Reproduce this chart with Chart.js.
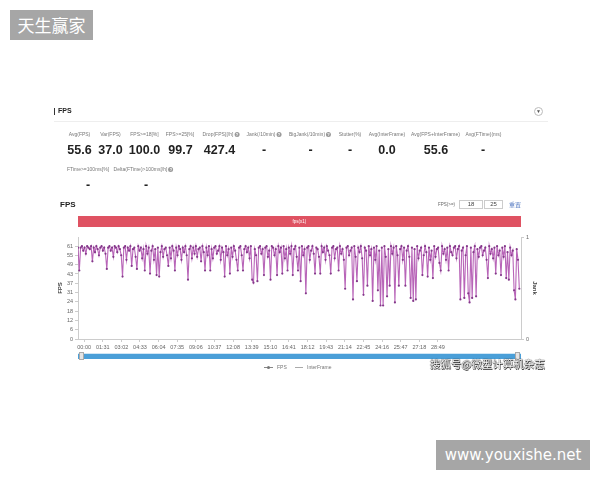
<!DOCTYPE html>
<html><head><meta charset="utf-8">
<script src="https://cdn.jsdelivr.net/npm/chart.js@4.4.1/dist/chart.umd.min.js"></script>
<style>
html,body{margin:0;padding:0;background:#fff;}
body{width:600px;height:480px;position:relative;overflow:hidden;font-family:"Liberation Sans",Arial,sans-serif;}
#c{position:absolute;left:0;top:0;}
.a{position:absolute;white-space:nowrap;}
.lab{position:absolute;white-space:nowrap;transform:translateX(-50%);font-size:5px;line-height:6px;color:#777;}
.val{position:absolute;white-space:nowrap;transform:translateX(-50%);font-size:12.5px;line-height:14px;font-weight:bold;color:#222;}
.ic{display:inline-block;width:5px;height:5px;border-radius:50%;background:#9a9a9a;color:#fff;font-size:4px;line-height:5px;text-align:center;vertical-align:middle;margin-left:1px;font-weight:bold;}
.wm{position:absolute;background:#a6a6a6;color:#fff;text-align:center;}
</style></head><body>
<canvas id="c" width="600" height="480"></canvas>

<div class="wm" style="left:10px;top:10px;width:83px;height:30px;line-height:30px;font-size:17px;font-family:'Noto Sans CJK SC',sans-serif;">天生赢家</div>
<div class="wm" style="left:436px;top:440px;width:154px;height:30px;line-height:30px;font-size:15px;font-family:'DejaVu Sans',sans-serif;">www.youxishe.net</div>

<!-- panel header -->
<div class="a" style="left:54px;top:106px;font-size:7px;line-height:10px;color:#222;"><span style="display:inline-block;width:1px;height:7px;background:#333;vertical-align:middle;margin-right:3px;"></span><b>FPS</b></div>
<div class="a" style="left:54px;top:121px;width:494px;height:1px;background:#eee;"></div>
<div class="a" style="left:534px;top:107px;width:9px;height:9px;border:1px solid #bbb;border-radius:50%;box-sizing:border-box;font-size:5px;line-height:7px;text-align:center;color:#555;">▼</div>

<!-- stats row 1 -->
<div class="lab" style="left:79.5px;top:131px;">Avg(FPS)</div>
<div class="lab" style="left:110.5px;top:131px;">Var(FPS)</div>
<div class="lab" style="left:144.5px;top:131px;">FPS&gt;=18[%]</div>
<div class="lab" style="left:180px;top:131px;">FPS&gt;=25[%]</div>
<div class="lab" style="left:221px;top:131px;">Drop(FPS)[/h]<span class="ic">?</span></div>
<div class="lab" style="left:264px;top:131px;">Jank(/10min)<span class="ic">?</span></div>
<div class="lab" style="left:310px;top:131px;">BigJank(/10min)<span class="ic">?</span></div>
<div class="lab" style="left:350px;top:131px;">Stutter(%)</div>
<div class="lab" style="left:387px;top:131px;">Avg(InterFrame)</div>
<div class="lab" style="left:435.5px;top:131px;">Avg(FPS+InterFrame)</div>
<div class="lab" style="left:483.5px;top:131px;">Avg(FTime)(ms)</div>

<div class="val" style="left:79.5px;top:143px;">55.6</div>
<div class="val" style="left:110.5px;top:143px;">37.0</div>
<div class="val" style="left:144.5px;top:143px;">100.0</div>
<div class="val" style="left:180.5px;top:143px;">99.7</div>
<div class="val" style="left:219.5px;top:143px;">427.4</div>
<div class="val" style="left:264px;top:143px;">-</div>
<div class="val" style="left:310.5px;top:143px;">-</div>
<div class="val" style="left:350px;top:143px;">-</div>
<div class="val" style="left:387px;top:143px;">0.0</div>
<div class="val" style="left:436px;top:143px;">55.6</div>
<div class="val" style="left:483px;top:143px;">-</div>

<!-- stats row 2 -->
<div class="lab" style="left:88px;top:166px;">FTime&gt;=100ms[%]</div>
<div class="lab" style="left:143.5px;top:166px;">Delta(FTime)&gt;100ms[/h]<span class="ic">?</span></div>
<div class="val" style="left:88px;top:178px;">-</div>
<div class="val" style="left:146px;top:178px;">-</div>

<!-- chart section header -->
<div class="a" style="left:60px;top:200px;font-size:8px;line-height:10px;font-weight:bold;color:#222;">FPS</div>
<div class="a" style="left:438px;top:202px;font-size:4.5px;line-height:6px;color:#666;">FPS(&gt;=)</div>
<div class="a" style="left:459px;top:200px;width:24px;height:9px;border:1px solid #ccc;box-sizing:border-box;font-size:6px;line-height:7px;text-align:center;color:#444;">18</div>
<div class="a" style="left:484px;top:200px;width:19px;height:9px;border:1px solid #ccc;box-sizing:border-box;font-size:6px;line-height:7px;text-align:center;color:#444;">25</div>
<div class="a" style="left:509px;top:201px;font-size:6px;line-height:7px;color:#5b7fc4;font-family:'Noto Sans CJK SC',sans-serif;">重置</div>
<div class="a" style="left:78px;top:216px;width:443px;height:11px;background:#df5262;color:#fff;font-size:4.5px;line-height:11px;text-align:center;">fps(x1)</div>

<!-- slider -->
<div class="a" style="left:78px;top:353px;width:443px;height:1px;background:#cfe6f5;"></div>
<div class="a" style="left:78px;top:354px;width:443px;height:5px;background:#4a9fd8;"></div>
<div class="a" style="left:79px;top:352px;width:5px;height:8px;background:#e4e4e4;border:1px solid #aaa;box-sizing:border-box;"></div>
<div class="a" style="left:515px;top:352px;width:5px;height:8px;background:#e4e4e4;border:1px solid #aaa;box-sizing:border-box;"></div>

<!-- legend -->
<div class="a" style="left:264px;top:367px;width:9px;height:1px;background:#888;"></div>
<div class="a" style="left:267px;top:366px;width:3px;height:3px;border-radius:50%;background:#777;"></div>
<div class="a" style="left:277px;top:364px;font-size:5px;line-height:6px;color:#777;">FPS</div>
<div class="a" style="left:295px;top:367px;width:8px;height:1px;background:#aaa;"></div>
<div class="a" style="left:307px;top:364px;font-size:5px;line-height:6px;color:#777;">InterFrame</div>

<!-- sohu watermark -->
<div class="a" style="left:430px;top:357px;font-size:10.5px;line-height:13px;color:#fff;font-family:'Noto Sans CJK SC',sans-serif;text-shadow:0 0 1px #222,0 0 1px #222,0.5px 0.5px 0.5px #333;">搜狐号@微型计算机杂志</div>

<script>
// ---- data ----
const xTickLabels = ['00:00','01:31','03:02','04:33','06:04','07:35','09:06','10:37','12:08','13:39','15:10','16:41','18:12','19:43','21:14','22:45','24:16','25:47','27:18','28:49'];
const yTickValues = [0, 6.1, 12.2, 18.3, 24.4, 30.5, 36.6, 42.7, 48.8, 54.9, 61];
const yTickLabels = ['0','6','12','18','24','31','37','43','49','55','61'];
const jankTickValues = [0, 1];
const sampleStart = -30;   // seconds
const sampleStep = 6.4;    // seconds between plotted samples
const fpsValues = [
 60,45,60,61,58,60,56,61,60,59,
 61,51,60,57,61,59,55,60,61,58,
 60,56,46,60,61,58,60,54,61,60,
 57,61,59,55,41,60,61,52,60,58,
 61,48,59,60,54,46,61,58,60,53,
 59,45,61,56,60,43,58,61,52,59,
 42,60,41,57,61,54,59,60,55,48,
 60,53,61,58,45,60,55,61,59,52,
 60,57,61,55,39,59,61,53,60,56,
 61,54,59,60,51,61,57,45,60,55,
 61,45,59,53,60,61,56,58,61,52,
 60,57,41,61,55,59,43,60,54,61,
 58,52,45,60,61,55,45,59,61,57,
 60,53,61,39,37,59,55,38,60,61,
 56,59,42,60,61,54,58,39,61,60,
 55,59,42,61,57,60,43,61,53,59,
 45,60,56,61,42,59,61,54,45,60,
 38,61,55,59,30,60,61,52,58,61,
 56,43,60,59,54,43,61,57,60,52,
 61,58,55,43,60,61,53,59,60,45,
 61,56,59,52,33,60,61,55,58,60,
 26,61,54,38,60,57,61,53,29,60,
 58,35,61,55,59,25,60,52,61,32,
 58,22,60,22,61,54,28,59,35,61,
 56,60,24,61,55,35,59,61,52,60,
 35,58,61,54,27,60,25,59,26,61,
 53,58,60,42,55,61,57,41,60,52,
 58,40,61,54,59,60,50,45,61,56,
 59,52,60,45,61,57,55,60,61,53,
 59,61,26,58,60,27,55,61,30,24,
 60,27,57,61,28,59,54,60,61,55,
 58,60,52,40,61,56,59,53,60,43,
 61,55,58,42,60,54,61,40,57,39,
 60,55,58,32,26,59,52,33
];
const interFrameValues = [];

function toSec(s){const p=s.split(':');return (+p[0])*60+(+p[1]);}
const xTickSeconds = xTickLabels.map(toSec);

const axisGrey = '#cccccc';
new Chart(document.getElementById('c'), {
  type: 'line',
  data: {
    datasets: [
      {label:'FPS', yAxisID:'y', data: fpsValues.map((v,i)=>({x: sampleStart + i*sampleStep, y: v})),
       borderColor:'rgba(176,84,176,0.9)', borderWidth:1.1, pointRadius:1.1, pointBorderWidth:0,
       pointBackgroundColor:'#84388a', tension:0},
      {label:'InterFrame', yAxisID:'y1', data: interFrameValues, borderColor:'#aaa', borderWidth:1, pointRadius:0}
    ]
  },
  options: {
    responsive:false, animation:false, devicePixelRatio:1,
    layout:{padding:{left:54, right:59, top:237, bottom:127}},
    plugins:{legend:{display:false}, tooltip:{enabled:false}},
    scales:{
      x:{type:'linear', min:-30, max:2135,
         afterBuildTicks:s=>{s.ticks = xTickSeconds.map(v=>({value:v}));},
         afterFit:s=>{s.height=14;},
         ticks:{autoSkip:false, maxRotation:0, minRotation:0, padding:2, color:'#666', font:{size:5.5},
                callback:(v,i)=>xTickLabels[i]},
         grid:{drawOnChartArea:false, tickLength:3, color:axisGrey},
         border:{color:axisGrey}},
      y:{position:'left', min:0, max:67,
         afterBuildTicks:s=>{s.ticks = yTickValues.map(v=>({value:v}));},
         afterFit:s=>{s.width=24;},
         ticks:{padding:2, color:'#666', font:{size:5.5}, callback:(v,i)=>yTickLabels[i]},
         grid:{drawOnChartArea:false, tickLength:3, color:axisGrey},
         border:{color:axisGrey},
         title:{display:true, text:'FPS', color:'#444', font:{size:6, weight:'bold'}, padding:{top:3,bottom:0}}},
      y1:{position:'right', min:0, max:1,
         afterBuildTicks:s=>{s.ticks = jankTickValues.map(v=>({value:v}));},
         afterFit:s=>{s.width=20;},
         ticks:{padding:2, color:'#666', font:{size:5.5}},
         grid:{drawOnChartArea:false, tickLength:3, color:axisGrey},
         border:{color:axisGrey},
         title:{display:true, text:'Jank', color:'#444', font:{size:6, weight:'bold'}, padding:{top:3,bottom:0}}}
    }
  }
});
</script>
</body></html>
